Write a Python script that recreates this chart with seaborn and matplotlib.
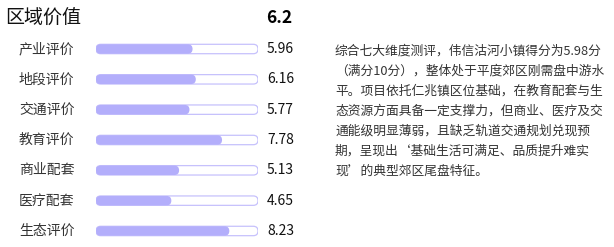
import matplotlib
matplotlib.use("Agg")
import matplotlib.pyplot as plt
import seaborn as sns
import pandas as pd
from matplotlib.patches import FancyBboxPatch

categories = ["产业评价", "地段评价", "交通评价", "教育评价", "商业配套", "医疗配套", "生态评价"]
scores = [5.96, 6.16, 5.77, 7.78, 5.13, 4.65, 8.23]
max_score = [10] * len(categories)
title = "区域价值"
total = "6.2"
paragraph_lines = [
    "综合七大维度测评，伟信沽河小镇得分为5.98分",
    "（满分10分），整体处于平度郊区刚需盘中游水",
    "平。项目依托仁兆镇区位基础，在教育配套与生",
    "态资源方面具备一定支撑力，但商业、医疗及交",
    "通能级明显薄弱，且缺乏轨道交通规划兑现预",
    "期，呈现出‘基础生活可满足、品质提升难实",
    "现’的典型郊区尾盘特征。",
]

sns.set_theme(style="white")
plt.rcParams["font.family"] = ["Noto Sans CJK SC", "DejaVu Sans"]

W, H = 614, 247
fig = plt.figure(figsize=(W / 100, H / 100), dpi=100)
fig.patch.set_facecolor("white")

def fx(px):
    return px / W

def fy(py):
    return 1 - py / H

row0, step = 49.0, 30.33
top_px = row0 - step / 2
bot_px = row0 + step * 6 + step / 2
ax = fig.add_axes([fx(96), fy(bot_px), fx(258) - fx(96), fy(top_px) - fy(bot_px)])

df = pd.DataFrame({"cat": categories, "score": scores, "max": max_score})
bar_w = 0.31
sns.barplot(data=df, x="max", y="cat", orient="h", color="white", width=bar_w, ax=ax)
n_track = len(ax.patches)
sns.barplot(data=df, x="score", y="cat", orient="h", color="#b3aefb", width=bar_w, ax=ax)
ax.set_xlim(0, 10)
ax.set_ylim(6.5, -0.5)
ax.axis("off")

# convert rectangles to rounded bars
fig.canvas.draw()
bb = ax.get_window_extent()
px_per_x = bb.width / 10.0
px_per_y = bb.height / 7.0
rects = list(ax.patches)
for i, p in enumerate(rects):
    x0, y0, w, h = p.get_x(), p.get_y(), p.get_width(), p.get_height()
    r_px = abs(h) * px_per_y / 2
    r_x = r_px / px_per_x
    r_y = abs(h) / 2
    asp = r_y / r_x
    if i < n_track:
        fc, ec, lw = "white", "#c6c1fc", 0.9
    else:
        fc, ec, lw = "#b3aefb", "none", 0
    fb = FancyBboxPatch((x0, y0), w, h,
                        boxstyle=f"round,pad=0,rounding_size={r_x}",
                        mutation_aspect=asp, facecolor=fc, edgecolor=ec,
                        linewidth=lw, zorder=2 if i < n_track else 3)
    p.remove()
    ax.add_patch(fb)

# texts
fig.text(fx(5), fy(18), title, fontsize=13.7, color="#111111", va="center", ha="left")
fig.text(fx(292), fy(18), total, fontsize=12.5, color="#000000", va="center", ha="right",
         fontweight="bold")
for i, (c, s) in enumerate(zip(categories, scores)):
    y = row0 + step * i
    fig.text(fx(19), fy(y), c, fontsize=10, color="#333333", va="center", ha="left")
    fig.text(fx(267), fy(y), f"{s:.2f}", fontsize=10, color="#111111", va="center", ha="left")

for i, line in enumerate(paragraph_lines):
    fig.text(fx(335), fy(51.5 + 20 * i), line, fontsize=9.2, color="#333333",
             va="center", ha="left")

fig.savefig("out.png", dpi=100, facecolor="white")
